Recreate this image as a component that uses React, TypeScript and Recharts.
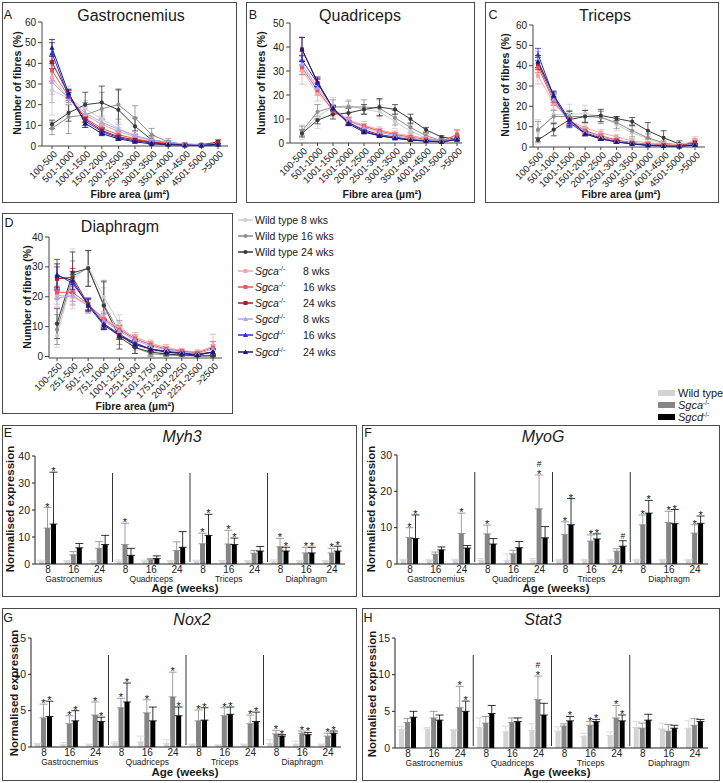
import React from "react";
import {
  LineChart,
  Line,
  BarChart,
  Bar,
  XAxis,
  YAxis,
  ErrorBar,
  ReferenceLine,
  LabelList
} from "recharts";

const FONT = "'Liberation Sans', Arial, Helvetica, sans-serif";

// ---------- A–D: fibre size distribution ----------
const limbBins = ["100-500", "501-1000", "1001-1500", "1501-2000", "2001-2500", "2501-3000", "3001-3500", "3501-4000", "4001-4500", "4501-5000", ">5000"];
const diaBins = ["100-250", "251-500", "501-750", "751-1000", "1001-1250", "1251-1500", "1501-1750", "1751-2000", "2001-2250", "2251-2500", ">2500"];

// series order: WT 8/16/24, Sgca 8/16/24, Sgcd 8/16/24
const legendGenotypes = ["Wild type", "Wild type", "Wild type", "Sgca", "Sgca", "Sgca", "Sgcd", "Sgcd", "Sgcd"];
const legendAges = ["8 wks", "16 wks", "24 wks", "8 wks", "16 wks", "24 wks", "8 wks", "16 wks", "24 wks"];

const gastroMean = [
  [27, 23, 18, 13, 8.5, 5, 3, 1.5, 0.8, 0.5, 0.8],
  [8.5, 14, 15, 18, 20, 13.5, 5.5, 2, 0.8, 0.4, 0.5],
  [10.5, 16, 20, 21, 17.5, 9.5, 3, 1.5, 0.5, 0.3, 0.5],
  [33, 23, 15, 10.5, 7, 4.5, 2.5, 1.5, 1, 0.8, 1.5],
  [36.5, 24, 13.5, 8.5, 5.5, 3.5, 2, 1.2, 0.8, 0.6, 1.5],
  [40.5, 25, 13, 7.5, 4.5, 3, 1.8, 1, 0.6, 0.5, 2],
  [31, 23, 16, 11.5, 8, 5, 3, 1.8, 1, 0.6, 1],
  [45, 24, 12, 7, 4, 2.5, 1.5, 0.8, 0.4, 0.3, 0.8],
  [47.5, 25.5, 11, 6, 3.5, 2, 1, 0.6, 0.3, 0.2, 0.8]
];
const gastroSd = [
  [12, 6, 4, 4, 3, 2, 1.5, 1, 0.5, 0.3, 0.5],
  [3, 8, 6, 8, 7, 6, 3, 1.5, 0.5, 0.3, 0.4],
  [2, 4, 6, 8, 10, 4, 2, 1, 0.5, 0.3, 0.3],
  [8, 3, 3, 3, 2, 1.5, 1, 0.8, 0.5, 0.4, 0.8],
  [5, 3, 2, 2, 1.5, 1, 0.8, 0.5, 0.4, 0.3, 0.8],
  [3, 2, 1.5, 1.5, 1, 0.8, 0.5, 0.4, 0.3, 0.3, 1],
  [10, 3, 3, 3, 2.5, 2, 1.2, 0.8, 0.5, 0.4, 0.5],
  [5, 2, 2, 1.5, 1, 0.8, 0.5, 0.4, 0.3, 0.2, 0.5],
  [4, 2, 2, 1, 0.8, 0.5, 0.4, 0.3, 0.2, 0.2, 0.4]
];

const quadMean = [
  [4.5, 11, 15, 15.5, 14, 13, 9, 5, 2, 0.8, 2],
  [5, 13, 15, 15, 15, 14.5, 10.5, 6.5, 3, 1, 1],
  [4, 9.5, 12, 12.5, 14, 15, 14, 10, 5.5, 2.5, 1.5],
  [30.5, 20.5, 14, 9.5, 7.5, 5.5, 4, 3, 2, 1, 3],
  [31.5, 22, 13.5, 9, 7, 5, 3.5, 2.5, 1.5, 0.8, 3.5],
  [39, 25, 14, 8.5, 5.5, 3.5, 2.5, 1.5, 1, 0.5, 2],
  [33, 23, 14.5, 9.5, 6.5, 4.5, 3, 2, 1.2, 0.7, 2],
  [34.5, 25, 14.5, 8.5, 5, 3, 2, 1.3, 0.8, 0.5, 1.5],
  [39, 25.5, 14.5, 8, 4.5, 3, 2, 1.2, 0.8, 0.4, 1.5]
];
const quadSd = [
  [3, 5, 4, 2.5, 2, 3, 3, 2, 1, 0.5, 1],
  [2, 3, 3, 2.5, 3, 3.5, 3, 2, 1, 0.5, 0.5],
  [1.5, 1.5, 2, 2, 2, 3.5, 2, 2, 1, 0.5, 0.5],
  [6, 3, 2, 1.5, 1.5, 1.2, 1, 1, 0.8, 0.5, 2],
  [3, 2, 1.5, 1.5, 1, 1, 0.8, 0.6, 0.5, 0.3, 2],
  [5, 2, 1, 1, 0.8, 0.6, 0.5, 0.3, 0.3, 0.2, 1],
  [3, 2, 1.5, 1, 1, 0.8, 0.6, 0.5, 0.4, 0.3, 1],
  [2, 1.5, 1, 0.8, 0.6, 0.5, 0.4, 0.3, 0.2, 0.2, 0.5],
  [5, 2, 1, 0.8, 0.6, 0.5, 0.4, 0.3, 0.2, 0.2, 0.5]
];

const triMean = [
  [7.5, 16, 16, 16.5, 15, 11, 7, 4, 1.5, 0.5, 0.5],
  [8.5, 15, 15, 15, 14.5, 12, 8, 4.5, 2, 1, 1],
  [3.5, 8.5, 13.5, 15, 15.5, 14, 12.5, 8, 4.5, 1.5, 0.8],
  [35, 21.5, 13, 9.5, 7, 5, 3, 2, 1.5, 1, 3],
  [39.5, 22.5, 13, 8, 5.5, 3.5, 2, 1.5, 1, 0.5, 2.5],
  [41, 24, 13, 7, 4.5, 3, 2, 1, 0.8, 0.5, 2],
  [43, 23.5, 12, 7.5, 5, 3, 2, 1.2, 0.8, 0.5, 1.5],
  [45.5, 25, 12, 6.5, 4, 2.5, 1.5, 0.8, 0.5, 0.3, 1],
  [42, 25.5, 13.5, 6.5, 4, 2.5, 1.5, 0.8, 0.5, 0.3, 1]
];
const triSd = [
  [6, 5, 5, 4, 3, 3, 3, 2, 1, 0.5, 0.5],
  [4, 3, 3, 3, 3, 3, 3, 2, 1, 0.5, 0.5],
  [1, 3, 4, 3, 3, 1, 2, 4, 3.5, 1.5, 0.5],
  [4, 3, 2, 2, 1.5, 1, 1, 0.8, 0.6, 0.4, 2],
  [3, 2, 2, 1.5, 1, 0.8, 0.6, 0.5, 0.4, 0.3, 1.5],
  [3, 2, 1.5, 1, 0.8, 0.6, 0.5, 0.4, 0.3, 0.2, 1],
  [4, 3, 2, 1.5, 1, 0.8, 0.6, 0.5, 0.4, 0.3, 1],
  [3, 2, 2, 1, 0.8, 0.6, 0.4, 0.3, 0.2, 0.2, 0.5],
  [3, 2, 3, 1, 0.8, 0.6, 0.4, 0.3, 0.2, 0.2, 0.5]
];

const diaMean = [
  [7, 26, 30, 20, 11, 4, 2, 1, 0.5, 0.3, 0.5],
  [9, 27, 29.5, 17.5, 8, 3, 1, 0.5, 0.3, 0.2, 0.3],
  [11, 28, 29.5, 17, 6.5, 3, 1.5, 0.8, 0.5, 0.2, 0.2],
  [20.5, 20, 17, 13, 9.5, 6.5, 4.5, 3, 2, 1.5, 3.5],
  [21.5, 21.5, 17.5, 12.5, 9, 6, 4, 2.5, 1.8, 1.2, 3],
  [26, 26.5, 17.5, 11, 7.5, 4.5, 2.5, 1.8, 1.2, 0.8, 1.5],
  [19.5, 20.5, 17, 12, 8.5, 5.5, 3.5, 2.2, 1.5, 1, 2.5],
  [27.5, 24.5, 17.5, 11, 7, 4.5, 2.5, 1.5, 1, 0.5, 1.5],
  [27, 25.5, 17, 10.5, 7, 4, 2.5, 1.5, 1, 0.5, 1.5]
];
const diaSd = [
  [4, 10, 5, 3, 3, 2, 1, 0.5, 0.3, 0.2, 0.3],
  [5, 5, 6, 8, 4, 2, 1, 0.5, 0.3, 0.2, 0.2],
  [5, 7, 6, 8, 4, 2, 1, 0.5, 0.3, 0.2, 0.2],
  [3, 3, 2.5, 2, 2, 1.5, 1, 1, 0.8, 0.8, 4],
  [2, 3, 2, 2, 1.5, 1.2, 1, 0.8, 0.6, 0.5, 2],
  [4, 3, 2, 1.5, 1.2, 1, 0.8, 0.6, 0.5, 0.4, 1],
  [3, 3, 2.5, 2, 1.5, 1.2, 1, 0.8, 0.6, 0.5, 1.5],
  [5, 3, 2, 1.5, 1.2, 1, 0.8, 0.5, 0.4, 0.3, 1],
  [4, 3, 2, 1.5, 1.2, 1, 0.8, 0.5, 0.4, 0.3, 1]
];

// ---------- E–H: gene expression ----------
const muscles = ["Gastrocnemius", "Quadriceps", "Triceps", "Diaphragm"];
const ages = ["8", "16", "24"];

const myh3Wt = [1, 1, 1, 1, 1, 1, 1, 1, 1, 1, 1, 1];
const myh3WtErr = [0.4, 0.3, 0.3, 0.5, 0.4, 0.3, 0.4, 0.3, 0.3, 0.5, 0.3, 0.3];
const myh3Sgca = [13.3, 3.4, 5.8, 7.2, 1.6, 5.0, 7.5, 7.4, 4.0, 6.4, 4.1, 4.1];
const myh3SgcaErr = [7.6, 1.2, 2.5, 7.9, 0.4, 3.2, 3.9, 5.1, 1.0, 3.1, 2.1, 1.7];
const myh3Sgcd = [14.8, 6.0, 7.2, 3.2, 2.0, 6.2, 10.6, 7.2, 4.8, 4.8, 4.1, 4.8];
const myh3SgcdErr = [19.2, 1.6, 3.4, 2.6, 1.0, 5.8, 7.8, 2.4, 1.7, 1.4, 2.1, 1.8];
const myh3SgcaMarks = ["*", "", "", "*", "", "", "*", "*", "", "*", "*", "*"];
const myh3SgcdMarks = ["*", "", "", "", "", "", "*", "*", "", "*", "*", "*"];

const myogWt = [1, 1, 1, 1, 1, 1, 1, 1, 1, 1, 1, 1];
const myogWtErr = [0.3, 0.3, 0.3, 0.5, 1.8, 0.5, 0.3, 0.3, 0.3, 0.3, 0.3, 0.3];
const myogSgca = [7.3, 2.7, 8.4, 8.3, 2.8, 15.2, 8.1, 6.3, 3.5, 10.8, 11.4, 8.5];
const myogSgcaErr = [2.7, 0.6, 5.6, 2.4, 1.0, 9.3, 3.5, 1.7, 0.7, 2.7, 3.1, 2.3];
const myogSgcd = [7.0, 3.9, 4.4, 5.5, 4.5, 7.2, 10.8, 6.9, 4.9, 14.0, 11.1, 11.2];
const myogSgcdErr = [6.5, 0.8, 0.7, 1.5, 1.7, 3.1, 7.2, 1.4, 1.5, 3.5, 3.9, 2.0];
const myogSgcaMarks = ["*", "", "*", "*", "", "*#", "*", "*", "", "*", "*", "*"];
const myogSgcdMarks = ["*", "", "", "", "", "", "*", "*", "#", "*", "*", "*"];

const nox2Wt = [0.4, 0.3, 0.3, 0.5, 0.7, 0.5, 0.3, 0.2, 0.3, 0.5, 0.4, 0.3];
const nox2WtErr = [0.1, 0.3, 0.1, 0.2, 0.8, 0.5, 0.1, 0.1, 0.1, 0.5, 0.4, 0.1];
const nox2Sgca = [4.0, 3.2, 4.4, 5.4, 4.7, 6.9, 3.6, 4.3, 3.2, 1.8, 1.9, 1.5];
const nox2SgcaErr = [1.9, 1.1, 1.8, 1.3, 1.8, 3.4, 1.5, 1.1, 1.2, 0.5, 0.3, 0.4];
const nox2Sgcd = [4.2, 3.6, 3.5, 6.2, 3.6, 4.3, 3.7, 4.5, 3.5, 1.5, 1.7, 1.9];
const nox2SgcdErr = [2.1, 1.4, 0.6, 2.6, 1.9, 1.2, 1.7, 1.0, 1.3, 0.2, 0.3, 0.3];
const nox2SgcaMarks = ["*", "*", "*", "*", "*", "*", "*", "*", "*", "*", "*", "*"];
const nox2SgcdMarks = ["*", "*", "*", "*", "", "*", "*", "*", "*", "*", "*", "*"];

const stat3Wt = [2.5, 2.6, 2.4, 2.8, 2.2, 2.4, 2.3, 1.6, 1.7, 2.8, 2.6, 2.7];
const stat3WtErr = [0.4, 0.2, 0.1, 1.3, 0.8, 0.9, 0.6, 0.4, 0.5, 0.8, 0.8, 1.0];
const stat3Sgca = [3.5, 4.1, 5.5, 3.4, 3.5, 6.6, 3.0, 3.1, 4.1, 2.7, 2.3, 3.1];
const stat3SgcaErr = [0.5, 0.9, 2.9, 0.9, 0.6, 3.2, 0.3, 0.5, 1.7, 0.7, 0.9, 0.9];
const stat3Sgcd = [4.2, 3.8, 5.0, 4.7, 3.6, 4.5, 3.7, 3.6, 3.7, 3.8, 2.7, 3.6];
const stat3SgcdErr = [0.8, 0.7, 1.4, 1.1, 0.5, 1.6, 0.6, 0.3, 0.8, 0.8, 0.4, 0.3];
const stat3SgcaMarks = ["", "", "*", "", "", "*#", "", "*", "*", "", "", ""];
const stat3SgcdMarks = ["", "", "*", "", "", "", "*", "*", "*", "", "", ""];

// ---------- styles ----------
const lineColors = ["#cdcdcd", "#8e8e8e", "#3a3a3a", "#f4a7a7", "#ea5656", "#a21d24", "#a8a8f2", "#2e2ed8", "#1b1b70"];
const markerShapes = ["circle", "circle", "circle", "square", "square", "square", "triangle", "triangle", "triangle"];
const barColors = ["#d3d3d3", "#858585", "#000000"];
const barLegend = ["Wild type", "Sgca", "Sgcd"];

function Marker({ cx, cy, shape, color }: any) {
  if (cx == null || cy == null) return null;
  if (shape === "circle") return <circle cx={cx} cy={cy} r={2.1} fill={color} />;
  if (shape === "square") return <rect x={cx - 2} y={cy - 2} width={4} height={4} fill={color} />;
  return <polygon points={`${cx},${cy - 2.6} ${cx + 2.6},${cy + 2} ${cx - 2.6},${cy + 2}`} fill={color} />;
}

function Txt({ x, y, size, children, bold, italic, rotate, anchor = "center" }: any) {
  const tx = anchor === "left" ? "0" : "-50%";
  return (
    <div
      style={{
        position: "absolute",
        left: x,
        top: y,
        transform: `translate(${tx}, -50%)${rotate ? " rotate(-90deg)" : ""}`,
        fontSize: size,
        fontWeight: bold ? 700 : 400,
        fontStyle: italic ? "italic" : "normal",
        whiteSpace: "nowrap",
        lineHeight: 1,
        color: "#1a1a1a"
      }}
    >
      {children}
    </div>
  );
}

function Frame({ box }: any) {
  return (
    <div
      style={{
        position: "absolute",
        left: box.x,
        top: box.y,
        width: box.w,
        height: box.h,
        border: "1.5px solid #4a4a4a",
        boxSizing: "border-box"
      }}
    />
  );
}

const RotTick = ({ x, y, payload }: any) => (
  <g transform={`translate(${x + 3},${y + 1})`}>
    <text x={0} y={0} dy={4} transform="rotate(-45)" textAnchor="end" fontSize={9.5} fill="#222" fontFamily={FONT}>
      {payload.value}
    </text>
  </g>
);

function LinePanel({ cfg, bins, means, sds }: any) {
  const rows = bins.map((bin: string, i: number) => {
    const r: any = { bin };
    means.forEach((m: number[], s: number) => {
      r[`s${s}`] = m[i];
      r[`e${s}`] = sds[s][i];
    });
    return r;
  });
  const { box, plot } = cfg;
  return (
    <>
      <Frame box={box} />
      <div style={{ position: "absolute", left: box.x, top: box.y }}>
        <LineChart
          width={box.w}
          height={box.h}
          data={rows}
          margin={{ top: plot.top, right: box.w - plot.right, bottom: 0, left: 0 }}
        >
          <XAxis
            dataKey="bin"
            interval={0}
            tick={<RotTick />}
            height={box.h - plot.bottom}
            padding={{ left: cfg.pad[0], right: cfg.pad[1] }}
            stroke="#444"
            tickSize={3}
          />
          <YAxis
            domain={[0, cfg.yMax]}
            ticks={cfg.yTicks}
            width={plot.left}
            tick={{ fontSize: 10, fill: "#222", fontFamily: FONT }}
            tickSize={4}
            stroke="#444"
          />
          {means.map((_: any, s: number) => (
            <Line
              key={s}
              dataKey={`s${s}`}
              stroke={lineColors[s]}
              strokeWidth={1}
              isAnimationActive={false}
              activeDot={false}
              dot={(p: any) => (
                <Marker key={`m${s}-${p.index}`} cx={p.cx} cy={p.cy} shape={markerShapes[s]} color={lineColors[s]} />
              )}
            >
              <ErrorBar dataKey={`e${s}`} width={3} strokeWidth={0.8} stroke={lineColors[s]} direction="y" />
            </Line>
          ))}
        </LineChart>
      </div>
      <Txt x={box.x + cfg.letter[0]} y={box.y + cfg.letter[1]} size={12.5}>{cfg.letterText}</Txt>
      <Txt x={box.x + cfg.title[0]} y={box.y + cfg.title[1]} size={16}>{cfg.titleText}</Txt>
      <Txt x={box.x + cfg.ylab[0]} y={box.y + cfg.ylab[1]} size={10.5} bold rotate>Number of fibres (%)</Txt>
      <Txt x={box.x + cfg.xlab[0]} y={box.y + cfg.xlab[1]} size={10.5} bold>
        Fibre area (µm²)
      </Txt>
    </>
  );
}

const AgeTick = ({ x, y, payload }: any) => {
  const i = payload.index;
  return (
    <g>
      <text x={x} y={y} dy={1} textAnchor="middle" fontSize={10} fill="#222" fontFamily={FONT}>
        {ages[i % 3]}
      </text>
      {i % 3 === 1 && (
        <text x={x} y={y} dy={9.5} textAnchor="middle" fontSize={8.5} fill="#222" fontFamily={FONT}>
          {muscles[Math.floor(i / 3)]}
        </text>
      )}
    </g>
  );
};

const markLabel = (vals: number[], errs: number[], marks: string[]) => (p: any) => {
  const i = p.index;
  const m = marks[i];
  if (!m) return null;
  const per = vals[i] ? Number(p.height) / vals[i] : 0;
  const top = Number(p.y) - errs[i] * per;
  const cx = Number(p.x) + Number(p.width) / 2;
  let base = top;
  return (
    <g key={`lab-${i}`}>
      {m.split("").map((c, k) => {
        const yy = c === "*" ? base + 3 : base - 2;
        base = c === "*" ? base - 6 : base - 8;
        return (
          <text key={k} x={cx} y={yy} textAnchor="middle" fontSize={c === "*" ? 11 : 8.5} fill="#111" fontFamily={FONT}>
            {c}
          </text>
        );
      })}
    </g>
  );
};

function BarPanel({ cfg, wt, wtErr, sgca, sgcaErr, sgcd, sgcdErr, sgcaMarks, sgcdMarks }: any) {
  const rows = wt.map((_: number, i: number) => ({
    id: `${muscles[Math.floor(i / 3)]}-${ages[i % 3]}`,
    wt: wt[i],
    wtE: [0, wtErr[i]],
    sgca: sgca[i],
    sgcaE: [0, sgcaErr[i]],
    sgcd: sgcd[i],
    sgcdE: [0, sgcdErr[i]],
    ma: sgcaMarks[i],
    md: sgcdMarks[i]
  }));
  const { box, plot } = cfg;
  const divShape = (p: any) => (
    <line x1={p.x1} y1={p.y1 - 2} x2={p.x2} y2={p.y2 + 17} stroke="#333" strokeWidth={1} />
  );
  return (
    <>
      <Frame box={box} />
      <div style={{ position: "absolute", left: box.x, top: box.y }}>
        <BarChart
          width={box.w}
          height={box.h}
          data={rows}
          margin={{ top: plot.top, right: box.w - plot.right, bottom: 0, left: 0 }}
          barCategoryGap={4}
          barGap={1}
        >
          <XAxis
            dataKey="id"
            interval={0}
            tick={<AgeTick />}
            tickLine={false}
            height={box.h - plot.bottom}
            stroke="#222"
          />
          <YAxis
            domain={[0, cfg.yMax]}
            ticks={cfg.yTicks}
            width={plot.left}
            tick={{ fontSize: 10.5, fill: "#222", fontFamily: FONT }}
            tickSize={3}
            stroke="#222"
          />
          {[3, 6, 9].map((k) => (
            <ReferenceLine key={k} x={rows[k].id} position="start" stroke="#333" shape={divShape} />
          ))}
          <Bar dataKey="wt" fill={barColors[0]} isAnimationActive={false}>
            <ErrorBar dataKey="wtE" width={4} strokeWidth={0.8} stroke={barColors[0]} />
          </Bar>
          <Bar dataKey="sgca" fill={barColors[1]} isAnimationActive={false}>
            <ErrorBar dataKey="sgcaE" width={4} strokeWidth={0.8} stroke={barColors[1]} />
            <LabelList dataKey="ma" content={markLabel(sgca, sgcaErr, sgcaMarks)} />
          </Bar>
          <Bar dataKey="sgcd" fill={barColors[2]} isAnimationActive={false}>
            <ErrorBar dataKey="sgcdE" width={4} strokeWidth={0.8} stroke={barColors[2]} />
            <LabelList dataKey="md" content={markLabel(sgcd, sgcdErr, sgcdMarks)} />
          </Bar>
        </BarChart>
      </div>
      <Txt x={box.x + cfg.letter[0]} y={box.y + cfg.letter[1]} size={12.5}>{cfg.letterText}</Txt>
      <Txt x={box.x + cfg.title[0]} y={box.y + cfg.title[1]} size={16} italic>{cfg.titleText}</Txt>
      <Txt x={box.x + cfg.ylab[0]} y={box.y + cfg.ylab[1]} size={11.5} bold rotate>Normalised expression</Txt>
      <Txt x={box.x + cfg.xlab[0]} y={box.y + cfg.xlab[1]} size={11.5} bold>Age (weeks)</Txt>
    </>
  );
}

// layout (page pixels)
const panelA = {
  box: { x: 2, y: 2, w: 235, h: 201 }, plot: { left: 40, top: 20, bottom: 144, right: 226 },
  pad: [10, 10], yMax: 60, yTicks: [0, 10, 20, 30, 40, 50, 60],
  letterText: "A", letter: [6, 13], titleText: "Gastrocnemius", title: [129, 14], ylab: [15, 81], xlab: [128, 192]
};
const panelB = {
  box: { x: 246, y: 2, w: 229, h: 201 }, plot: { left: 44, top: 21, bottom: 141, right: 216 },
  pad: [12, 5], yMax: 50, yTicks: [0, 10, 20, 30, 40, 50],
  letterText: "B", letter: [7, 13], titleText: "Quadriceps", title: [114, 14], ylab: [15, 81], xlab: [136, 192]
};
const panelC = {
  box: { x: 485, y: 2, w: 234, h: 201 }, plot: { left: 48, top: 23, bottom: 145, right: 220 },
  pad: [5, 10], yMax: 60, yTicks: [0, 10, 20, 30, 40, 50, 60],
  letterText: "C", letter: [8, 13], titleText: "Triceps", title: [120, 14], ylab: [20, 83], xlab: [136, 192]
};
const panelD = {
  box: { x: 2, y: 213, w: 231, h: 201 }, plot: { left: 47, top: 24, bottom: 145, right: 220 },
  pad: [8, 9], yMax: 40, yTicks: [0, 10, 20, 30, 40],
  letterText: "D", letter: [7, 10], titleText: "Diaphragm", title: [118, 14], ylab: [25, 84], xlab: [133, 193]
};

const panelE = {
  box: { x: 2, y: 425, w: 355, h: 172 }, plot: { left: 33, top: 31, bottom: 139, right: 343 },
  yMax: 40, yTicks: [0, 10, 20, 30, 40],
  letterText: "E", letter: [6, 8], titleText: "Myh3", title: [180, 12], ylab: [9, 84], xlab: [183, 164]
};
const panelF = {
  box: { x: 362, y: 425, w: 358, h: 172 }, plot: { left: 35, top: 30, bottom: 139, right: 346 },
  yMax: 30, yTicks: [0, 10, 20, 30],
  letterText: "F", letter: [6, 8], titleText: "MyoG", title: [181, 12], ylab: [10, 84], xlab: [194, 164]
};
const panelG = {
  box: { x: 2, y: 608, w: 355, h: 173 }, plot: { left: 29, top: 30, bottom: 139, right: 339 },
  yMax: 15, yTicks: [0, 5, 10, 15],
  letterText: "G", letter: [6, 10], titleText: "Nox2", title: [190, 12], ylab: [13, 85], xlab: [183, 165]
};
const panelH = {
  box: { x: 362, y: 608, w: 358, h: 173 }, plot: { left: 33, top: 30, bottom: 140, right: 346 },
  yMax: 15, yTicks: [0, 5, 10, 15],
  letterText: "H", letter: [6, 10], titleText: "Stat3", title: [181, 12], ylab: [11, 86], xlab: [195, 165]
};

const legendRowsY = [220, 236, 252, 271, 287, 303, 319, 335, 352];
const barLegendY = [393, 405, 417];

function SeriesLegend() {
  return (
    <>
      {legendGenotypes.map((g, s) => (
        <React.Fragment key={s}>
          <svg style={{ position: "absolute", left: 238, top: legendRowsY[s] - 5 }} width={16} height={10}>
            <line x1={0} y1={5} x2={15} y2={5} stroke={lineColors[s]} strokeWidth={1.5} />
            <Marker cx={7.5} cy={5} shape={markerShapes[s]} color={lineColors[s]} />
          </svg>
          {s < 3 ? (
            <Txt x={255} y={legendRowsY[s]} size={10.5} anchor="left">{`${g} ${legendAges[s]}`}</Txt>
          ) : (
            <>
              <Txt x={255} y={legendRowsY[s]} size={10.5} anchor="left">
                <i>{g}</i>
                <sup style={{ fontSize: 6.5 }}>-/-</sup>
              </Txt>
              <Txt x={303} y={legendRowsY[s]} size={10.5} anchor="left">{legendAges[s]}</Txt>
            </>
          )}
        </React.Fragment>
      ))}
    </>
  );
}

function BarLegend() {
  return (
    <>
      {barLegend.map((g, k) => (
        <React.Fragment key={k}>
          <div style={{ position: "absolute", left: 658, top: barLegendY[k] - 3, width: 17, height: 6, background: barColors[k] }} />
          <Txt x={678} y={barLegendY[k]} size={11} anchor="left">
            {k === 0 ? g : (
              <span>
                <i>{g}</i>
                <sup style={{ fontSize: 6.5 }}>-/-</sup>
              </span>
            )}
          </Txt>
        </React.Fragment>
      ))}
    </>
  );
}

export default function App() {
  return (
    <div
      style={{
        position: "absolute",
        left: 0,
        top: 0,
        width: 723,
        height: 783,
        background: "#fff",
        fontFamily: FONT,
        overflow: "hidden"
      }}
    >
      <LinePanel cfg={panelA} bins={limbBins} means={gastroMean} sds={gastroSd} />
      <LinePanel cfg={panelB} bins={limbBins} means={quadMean} sds={quadSd} />
      <LinePanel cfg={panelC} bins={limbBins} means={triMean} sds={triSd} />
      <LinePanel cfg={panelD} bins={diaBins} means={diaMean} sds={diaSd} />
      <SeriesLegend />
      <BarLegend />
      <BarPanel cfg={panelE} wt={myh3Wt} wtErr={myh3WtErr} sgca={myh3Sgca} sgcaErr={myh3SgcaErr}
        sgcd={myh3Sgcd} sgcdErr={myh3SgcdErr} sgcaMarks={myh3SgcaMarks} sgcdMarks={myh3SgcdMarks} />
      <BarPanel cfg={panelF} wt={myogWt} wtErr={myogWtErr} sgca={myogSgca} sgcaErr={myogSgcaErr}
        sgcd={myogSgcd} sgcdErr={myogSgcdErr} sgcaMarks={myogSgcaMarks} sgcdMarks={myogSgcdMarks} />
      <BarPanel cfg={panelG} wt={nox2Wt} wtErr={nox2WtErr} sgca={nox2Sgca} sgcaErr={nox2SgcaErr}
        sgcd={nox2Sgcd} sgcdErr={nox2SgcdErr} sgcaMarks={nox2SgcaMarks} sgcdMarks={nox2SgcdMarks} />
      <BarPanel cfg={panelH} wt={stat3Wt} wtErr={stat3WtErr} sgca={stat3Sgca} sgcaErr={stat3SgcaErr}
        sgcd={stat3Sgcd} sgcdErr={stat3SgcdErr} sgcaMarks={stat3SgcaMarks} sgcdMarks={stat3SgcdMarks} />
    </div>
  );
}
